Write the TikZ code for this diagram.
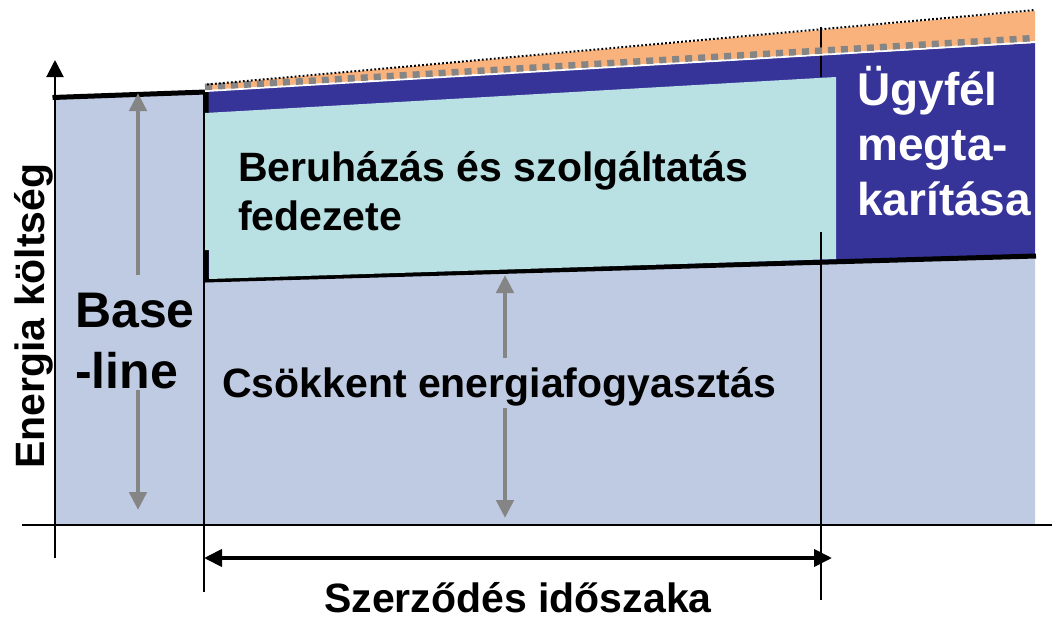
\documentclass[tikz,border=0pt]{standalone}
\usepackage{fontspec}
\setmainfont{Liberation Sans}
\usetikzlibrary{arrows.meta}
\definecolor{baseblue}{HTML}{BFCBE2}
\definecolor{darkblue}{HTML}{363399}
\definecolor{cyanfill}{HTML}{B9E0E3}
\definecolor{orangefill}{HTML}{F9B27B}
\definecolor{arrowgray}{HTML}{858585}
\definecolor{dashgray}{HTML}{858585}
\tikzset{
  lbl/.style={font=\fontsize{41}{48}\selectfont\bfseries, inner sep=0pt, anchor=base west},
  bigl/.style={font=\fontsize{50}{60}\selectfont\bfseries, inner sep=0pt, anchor=base west},
  ugy/.style={font=\fontsize{46}{54}\selectfont\bfseries, inner sep=0pt, anchor=base west, text=white},
  grayarrow/.style={draw=arrowgray, line width=4.5pt, -{Triangle[length=18pt,width=17pt]}},
  axisline/.style={draw=black, line width=2pt},
  thickline/.style={draw=black, line width=5pt},
  spanarrow/.style={draw=black, line width=4pt, {Triangle[length=18pt,width=17pt]}-{Triangle[length=18pt,width=17pt]}}
}
\begin{document}
\begin{tikzpicture}[x=1pt,y=-1pt]
\useasboundingbox (0,0) rectangle (1052,619);
% fills
\fill[baseblue] (55,97) -- (205,92) -- (205,280) -- (1035,257) -- (1035,524) -- (55,524) -- cycle;
\fill[orangefill] (205,85) -- (1035,11) -- (1035,43) -- (205,91) -- cycle;
\fill[darkblue] (205,91) -- (1035,43) -- (1035,257) -- (205,280) -- cycle;
% thick black outline (step)
\draw[thickline] (52.5,97.5) -- (206,92) -- (206,282);
\draw[thickline] (205,280) -- (1036,256);
% cyan box
\fill[cyanfill] (205,113) -- (836,77) -- (836,259) -- (209,279) -- (209,250) -- (205,250) -- cycle;
% thin vertical lines
\draw[axisline] (204,92) -- (204,592);
\draw[axisline] (821,27) -- (821,77);
\draw[axisline] (821,232) -- (821,600);
% top dashed / dotted lines
\draw[white, line width=2pt] (205,91) -- (1035,42);
\draw[dashgray, line width=6.5pt, dash pattern=on 7pt off 6pt] (205,87) -- (1035,38);
\draw[black, line width=2pt, dash pattern=on 1.8pt off 2.2pt] (207,84.5) -- (1035,10);
% axes
\coordinate (yb) at (55,558);
\coordinate (yt) at (55,60);
\coordinate (xl) at (22,525);
\coordinate (xr) at (1052,525);
\draw[axisline, -{Triangle[length=17pt,width=17pt]}] (yb) -- (yt);
\draw[axisline] (xl) -- (xr);
% texts
\node[lbl] (ber1) at (238,181) {Beruházás és szolgáltatás};
\node[lbl] (ber2) at (238,230) {fedezete};
\node[lbl] (csok) at (222,397) {Csökkent energiafogyasztás};
\node[bigl] (base1) at (75,327) {Base};
\node[bigl] (base2) at (75,388) {-line};
\node[ugy] (u1) at (857,105) {Ügyfél};
\node[ugy] (u2) at (857,160) {megta-};
\node[ugy] (u3) at (857,215) {karítása};
\node[lbl, rotate=90, anchor=base] (ylab) at (44,316) {Energia költség};
\node[lbl, anchor=base] (xlab) at (518,612) {Szerződés időszaka};
% gray arrows
\coordinate (b1s) at (138,275);
\coordinate (b1e) at (138,93);
\coordinate (b2s) at (138,390);
\coordinate (b2e) at (138,510);
\coordinate (m1s) at (505,358);
\coordinate (m1e) at (505,275);
\coordinate (m2s) at (505,408);
\coordinate (m2e) at (505,518);
\draw[grayarrow] (b1s) -- (b1e);
\draw[grayarrow] (b2s) -- (b2e);
\draw[grayarrow] (m1s) -- (m1e);
\draw[grayarrow] (m2s) -- (m2e);
% contract span
\coordinate (ps) at (204,558);
\coordinate (pe) at (832,558);
\draw[spanarrow] (ps) -- (pe);
\end{tikzpicture}
\end{document}
